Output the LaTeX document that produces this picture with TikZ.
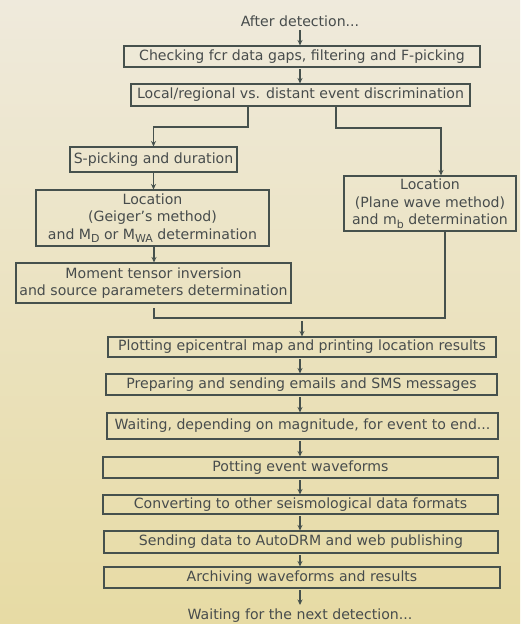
\documentclass[tikz,border=0pt]{standalone}
\usepackage{fontspec}
\setmainfont{DejaVu Sans}
\usetikzlibrary{arrows.meta,calc}
\definecolor{bgtop}{HTML}{EFEADC}
\definecolor{bgbot}{HTML}{E7DBA4}
\definecolor{edge}{HTML}{46514D}
\definecolor{txt}{HTML}{474C4C}
\newcommand{\lsub}[1]{\raisebox{-0.45ex}{\fontsize{11}{11}\selectfont #1}}
\begin{document}
\begin{tikzpicture}[x=1pt,y=-1pt,
  box/.style={draw=edge,line width=1.1pt,inner sep=0pt,align=center,text=txt,
    font=\fontsize{14.1}{17.5}\selectfont},
  plain/.style={inner sep=0pt,text=txt,font=\fontsize{14.1}{17.5}\selectfont},
  conn/.style={draw=edge,line width=1.1pt},
  arr/.style={conn,-{Stealth[length=5.5pt,width=5pt]}}]
\shade[top color=bgtop,bottom color=bgbot] (0,0) rectangle (520,624);
\useasboundingbox (0,0) rectangle (520,624);

\node[plain] (start) at (300,21) {After detection...};
\node[box,minimum width=356pt,minimum height=21pt] (chk) at (302,56.5) {Checking fcr data gaps, filtering and F-picking};
\node[box,minimum width=339pt,minimum height=22pt] (disc) at (300.5,95) {Local/regional vs. distant event discrimination};
\node[box,minimum width=167pt,minimum height=25pt] (spick) at (153.5,159.5) {S-picking and duration};
\node[box,minimum width=233pt,minimum height=56pt] (geig) at (152.5,218) {Location\\(Geiger’s method)\\and M\lsub{D} or M\lsub{WA} determination};
\node[box,minimum width=275pt,minimum height=40pt] (mom) at (153.5,283) {Moment tensor inversion\\and source parameters determination};
\node[box,minimum width=172pt,minimum height=55pt] (plane) at (430,203.5) {Location\\(Plane wave method)\\and m\lsub{b} determination};
\node[box,minimum width=388pt,minimum height=20pt] (plot) at (302,347) {Plotting epicentral map and printing location results};
\node[box,minimum width=391pt,minimum height=21pt] (prep) at (301.5,384.5) {Preparing and sending emails and SMS messages};
\node[box,minimum width=391pt,minimum height=26pt] (wait) at (302.5,426) {Waiting, depending on magnitude, for event to end...};
\node[box,minimum width=395pt,minimum height=21pt] (pott) at (300.5,467.5) {Potting event waveforms};
\node[box,minimum width=395pt,minimum height=19pt] (conv) at (300.5,504.5) {Converting to other seismological data formats};
\node[box,minimum width=394pt,minimum height=22pt] (send) at (301,542) {Sending data to AutoDRM and web publishing};
\node[box,minimum width=396pt,minimum height=21pt] (arch) at (302,577.5) {Archiving waveforms and results};
\node[plain] (next) at (300,616) {Waiting for the next detection...};

\coordinate (a1) at (300,30);
\draw[arr] (a1) -- (a1 |- chk.north);
\coordinate (a2) at (300,69);
\draw[arr] (a2) -- (a2 |- disc.north);
\coordinate (bl) at (248,127);
\coordinate (blt) at (153.5,127);
\draw[arr] (disc.south -| bl) -- (bl) -- (blt) -- (spick.north);
\coordinate (br) at (336,128);
\coordinate (brt) at (441,128);
\draw[arr] (disc.south -| br) -- (br) -- (brt) -- (brt |- plane.north);
\draw[arr] (spick.south) -- (spick.south |- geig.north);
\coordinate (a3) at (154,246);
\draw[arr] (a3) -- (a3 |- mom.north);
\coordinate (ml) at (154,318);
\coordinate (mr) at (445,318);
\draw[conn] (ml |- 0,308) -- (ml) -- (mr) -- (mr |- plane.south);
\coordinate (mj) at (302,321);
\draw[arr] (mj) -- (plot.north);
\coordinate (c1) at (300,359);
\draw[arr] (c1) -- (c1 |- prep.north);
\coordinate (c2) at (300,397);
\draw[arr] (c2) -- (c2 |- wait.north);
\coordinate (c3) at (300,441);
\draw[arr] (c3) -- (c3 |- pott.north);
\coordinate (c4) at (300,480);
\draw[arr] (c4) -- (c4 |- conv.north);
\coordinate (c5) at (300,516);
\draw[arr] (c5) -- (c5 |- send.north);
\coordinate (c6) at (300,555);
\draw[arr] (c6) -- (c6 |- arch.north);
\coordinate (c7) at (300,590);
\draw[arr] (c7) -- (300,605);
\end{tikzpicture}
\end{document}
